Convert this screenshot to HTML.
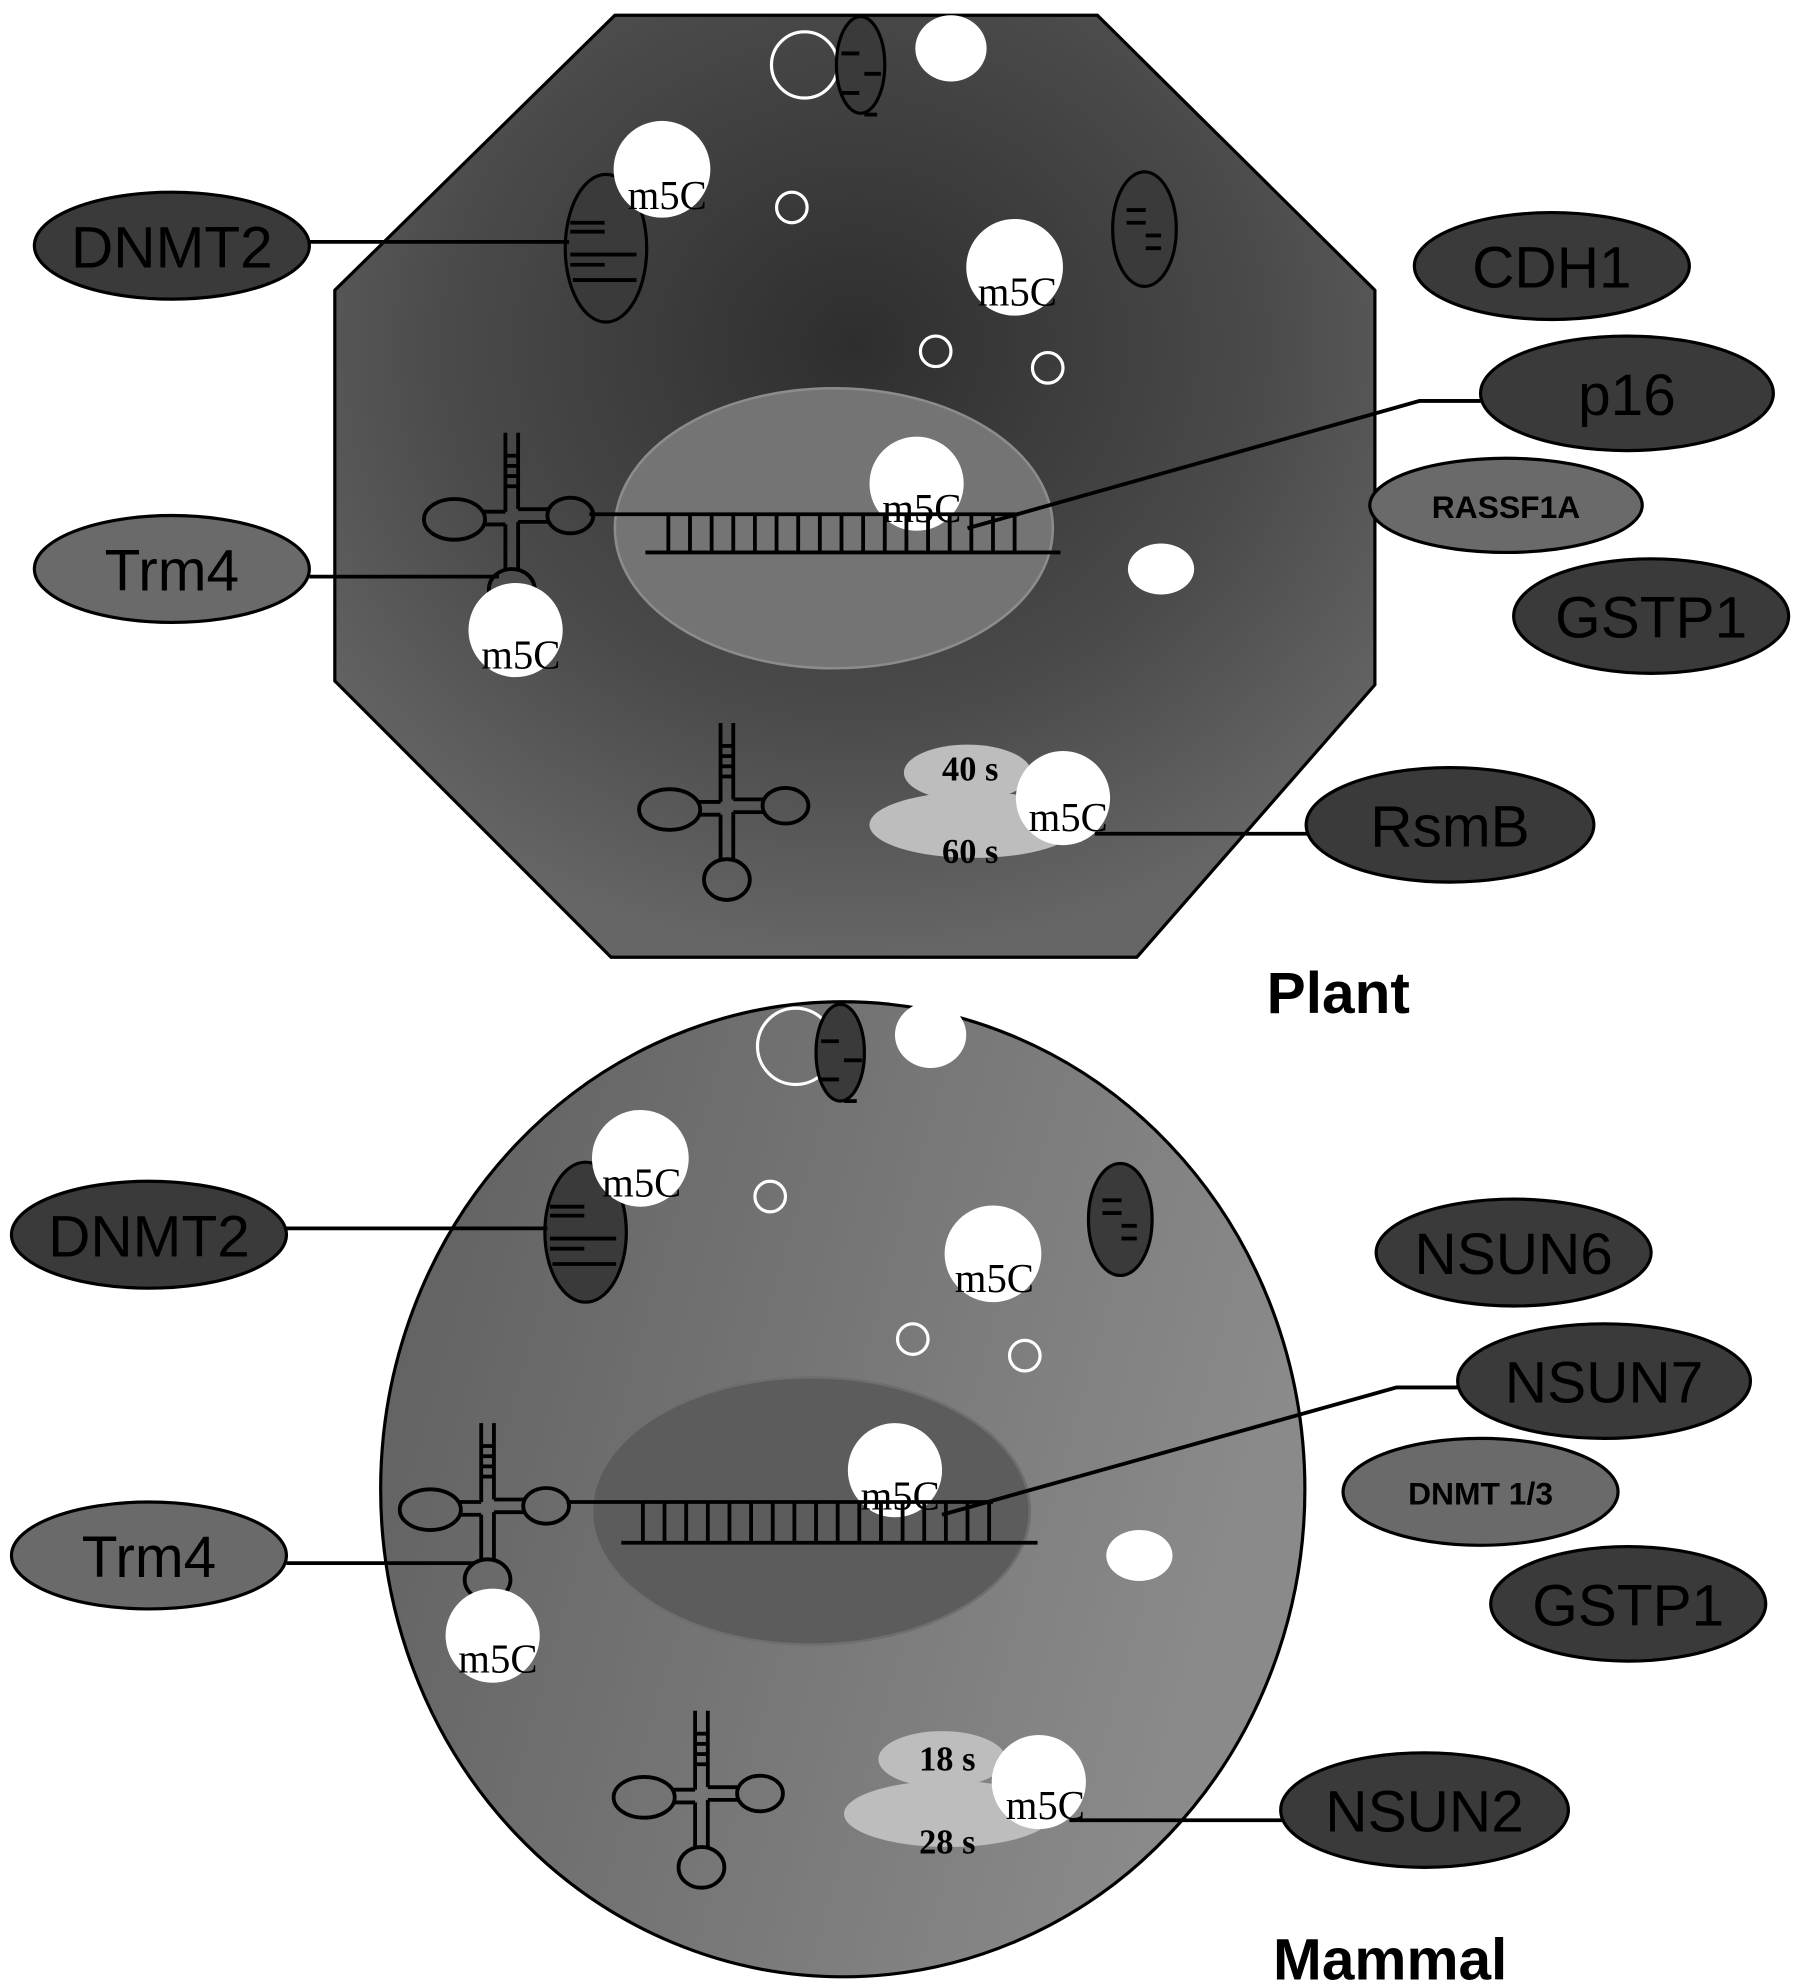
<!DOCTYPE html>
<html><head><meta charset="utf-8"><style>html,body{margin:0;padding:0;background:#fff}svg{display:block}</style></head>
<body>
<svg width="1795" height="1987" viewBox="0 0 1410 1561" preserveAspectRatio="none" xmlns="http://www.w3.org/2000/svg">
<defs>
<radialGradient id="pg" cx="0.5" cy="0.35" r="0.65">
<stop offset="0" stop-color="#2e2e2e"/><stop offset="0.6" stop-color="#4a4a4a"/><stop offset="1" stop-color="#666"/>
</radialGradient>
<linearGradient id="mg" x1="0" y1="0" x2="1" y2="0.3">
<stop offset="0" stop-color="#5e5e5e"/><stop offset="1" stop-color="#8a8a8a"/>
</linearGradient>
<g id="trna" fill="none" stroke="#000" stroke-width="3">
<line x1="-5" y1="-68" x2="-5" y2="-6"/><line x1="5" y1="-68" x2="5" y2="-8"/>
<line x1="-5" y1="-50" x2="5" y2="-50"/><line x1="-5" y1="-42" x2="5" y2="-42"/><line x1="-5" y1="-34" x2="5" y2="-34"/><line x1="-5" y1="-26" x2="5" y2="-26"/>
<line x1="-5" y1="-6" x2="-22" y2="-6"/><line x1="-5" y1="4" x2="-22" y2="4"/>
<ellipse cx="-45" cy="0" rx="24" ry="16"/>
<line x1="5" y1="-8" x2="30" y2="-8"/><line x1="5" y1="2" x2="30" y2="2"/>
<ellipse cx="46" cy="-3" rx="18" ry="14"/>
<line x1="-5" y1="4" x2="-5" y2="40"/><line x1="5" y1="2" x2="5" y2="40"/>
<ellipse cx="0" cy="55" rx="18" ry="16"/>
</g>
</defs>
<style>
.m{font-family:"Liberation Serif",serif;font-size:32px;fill:#000}
.lab{font-family:"Liberation Sans",sans-serif;font-size:46px;fill:#000;text-anchor:middle}
.sm{font-family:"Liberation Sans",sans-serif;font-size:25px;font-weight:bold;fill:#000;text-anchor:middle}
.rs{font-family:"Liberation Serif",serif;font-size:27px;font-weight:bold;fill:#000}
.big{font-family:"Liberation Sans",sans-serif;font-size:46px;font-weight:bold;fill:#000}
.dk{fill:#3a3a3a;stroke:#000;stroke-width:2.5}
.md{fill:#6a6a6a;stroke:#000;stroke-width:2.5}
.wh{fill:#fff}
.ho{fill:none;stroke:#fff;stroke-width:2.5}
.ln{stroke:#000;stroke-width:3;fill:none}
</style>

<!-- PLANT -->
<polygon points="483,12 862,12 1080,228 1080,538 893,752 480,752 263,535 263,228" fill="url(#pg)" stroke="#000" stroke-width="2.5"/>
<ellipse cx="655" cy="415" rx="172" ry="110" fill="#747474" stroke="#8c8c8c" stroke-width="2"/>
<circle cx="632" cy="51" r="26" class="ho"/>
<ellipse cx="676" cy="51" rx="19" ry="38" class="dk"/>
<g class="ln"><line x1="661" y1="42" x2="675" y2="42"/><line x1="661" y1="73" x2="675" y2="73"/><line x1="679" y1="58" x2="692" y2="58"/><line x1="679" y1="90" x2="689" y2="90"/></g>
<ellipse cx="747" cy="38" rx="28" ry="26" class="wh"/>
<circle cx="622" cy="163" r="12" class="ho"/>
<circle cx="735" cy="276" r="12" class="ho"/>
<circle cx="823" cy="289" r="12" class="ho"/>
<ellipse cx="899" cy="180" rx="25" ry="45" class="dk"/>
<g class="ln"><line x1="885" y1="165" x2="900" y2="165"/><line x1="885" y1="175" x2="900" y2="175"/><line x1="900" y1="185" x2="912" y2="185"/><line x1="900" y1="195" x2="912" y2="195"/></g>
<ellipse cx="476" cy="195" rx="32" ry="58" class="dk"/>
<g class="ln"><line x1="448" y1="175" x2="475" y2="175"/><line x1="448" y1="182" x2="475" y2="182"/><line x1="448" y1="200" x2="500" y2="200"/><line x1="448" y1="208" x2="475" y2="208"/><line x1="450" y1="220" x2="500" y2="220"/></g>
<circle cx="520" cy="133" r="38" class="wh"/>
<text x="493" y="164" class="m">m5C</text>
<circle cx="797" cy="210" r="38" class="wh"/>
<text x="768" y="240" class="m">m5C</text>
<line x1="243" y1="190" x2="447" y2="190" class="ln"/>
<ellipse cx="135" cy="193" rx="108" ry="42" class="dk"/>
<text x="135" y="210" class="lab">DNMT2</text>
<ellipse cx="1219" cy="209" rx="108" ry="42" class="dk"/>
<text x="1219" y="226" class="lab">CDH1</text>
<polyline points="1165,315 1115,315 760,415" class="ln"/>
<ellipse cx="1278" cy="309" rx="115" ry="45" class="dk"/>
<text x="1278" y="326" class="lab">p16</text>
<ellipse cx="1183" cy="397" rx="107" ry="37" class="md"/>
<text x="1183" y="407" class="sm">RASSF1A</text>
<ellipse cx="1297" cy="484" rx="108" ry="45" class="dk"/>
<text x="1297" y="501" class="lab">GSTP1</text>
<ellipse cx="912" cy="447" rx="26" ry="20" class="wh"/>
<circle cx="720" cy="380" r="37" class="wh"/>
<g class="ln">
<line x1="463" y1="404" x2="800" y2="404"/><line x1="507" y1="434" x2="833" y2="434"/>
<path d="M525 404v30M542 404v30M559 404v30M576 404v30M593 404v30M610 404v30M627 404v30M644 404v30M661 404v30M678 404v30M695 404v30M712 404v30M729 404v30M746 404v30M763 404v30M780 404v30M797 404v30"/>
</g>
<text x="693" y="410" class="m">m5C</text>
<use href="#trna" x="402" y="408"/>
<line x1="243" y1="453" x2="392" y2="453" class="ln"/>
<ellipse cx="135" cy="447" rx="108" ry="42" class="md"/>
<text x="135" y="464" class="lab">Trm4</text>
<circle cx="405" cy="495" r="37" class="wh"/>
<text x="378" y="525" class="m">m5C</text>
<use href="#trna" x="571" y="636"/>
<ellipse cx="760" cy="607" rx="50" ry="22" fill="#bdbdbd"/>
<ellipse cx="765" cy="648" rx="82" ry="26" fill="#bdbdbd"/>
<circle cx="835" cy="627" r="37" class="wh"/>
<text x="740" y="613" class="rs">40 s</text>
<text x="740" y="678" class="rs">60 s</text>
<text x="808" y="653" class="m">m5C</text>
<line x1="860" y1="655" x2="1027" y2="655" class="ln"/>
<ellipse cx="1139" cy="648" rx="113" ry="45" class="dk"/>
<text x="1139" y="665" class="lab">RsmB</text>
<text x="995" y="796" class="big">Plant</text>

<!-- MAMMAL -->
<ellipse cx="662" cy="1170" rx="363" ry="383" fill="url(#mg)" stroke="#000" stroke-width="2.5"/>
<ellipse cx="637" cy="1187" rx="172" ry="105" fill="#5c5c5c" stroke="#6e6e6e" stroke-width="2"/>
<circle cx="625" cy="822" r="30" class="ho"/>
<ellipse cx="660" cy="827" rx="19" ry="38" class="dk"/>
<g class="ln"><line x1="645" y1="818" x2="659" y2="818"/><line x1="645" y1="848" x2="659" y2="848"/><line x1="663" y1="833" x2="677" y2="833"/><line x1="663" y1="865" x2="673" y2="865"/></g>
<ellipse cx="731" cy="813" rx="28" ry="26" class="wh"/>
<circle cx="605" cy="940" r="12" class="ho"/>
<circle cx="717" cy="1052" r="12" class="ho"/>
<circle cx="805" cy="1065" r="12" class="ho"/>
<ellipse cx="880" cy="958" rx="25" ry="44" class="dk"/>
<g class="ln"><line x1="866" y1="943" x2="881" y2="943"/><line x1="866" y1="953" x2="881" y2="953"/><line x1="881" y1="963" x2="893" y2="963"/><line x1="881" y1="973" x2="893" y2="973"/></g>
<ellipse cx="460" cy="968" rx="32" ry="55" class="dk"/>
<g class="ln"><line x1="432" y1="948" x2="459" y2="948"/><line x1="432" y1="955" x2="459" y2="955"/><line x1="432" y1="973" x2="484" y2="973"/><line x1="432" y1="981" x2="459" y2="981"/><line x1="434" y1="993" x2="484" y2="993"/></g>
<circle cx="503" cy="910" r="38" class="wh"/>
<text x="473" y="940" class="m">m5C</text>
<circle cx="780" cy="985" r="38" class="wh"/>
<text x="750" y="1015" class="m">m5C</text>
<line x1="225" y1="965" x2="430" y2="965" class="ln"/>
<ellipse cx="117" cy="970" rx="108" ry="42" class="dk"/>
<text x="117" y="987" class="lab">DNMT2</text>
<ellipse cx="1189" cy="984" rx="108" ry="42" class="dk"/>
<text x="1189" y="1001" class="lab">NSUN6</text>
<polyline points="1147,1090 1097,1090 740,1190" class="ln"/>
<ellipse cx="1260" cy="1085" rx="115" ry="45" class="dk"/>
<text x="1260" y="1102" class="lab">NSUN7</text>
<ellipse cx="1163" cy="1172" rx="108" ry="42" class="md"/>
<text x="1163" y="1182" class="sm">DNMT 1/3</text>
<ellipse cx="1279" cy="1260" rx="108" ry="45" class="dk"/>
<text x="1279" y="1277" class="lab">GSTP1</text>
<ellipse cx="895" cy="1222" rx="26" ry="20" class="wh"/>
<circle cx="703" cy="1155" r="37" class="wh"/>
<g class="ln">
<line x1="445" y1="1180" x2="780" y2="1180"/><line x1="488" y1="1212" x2="815" y2="1212"/>
<path d="M505 1180v32M522 1180v32M539 1180v32M556 1180v32M573 1180v32M590 1180v32M607 1180v32M624 1180v32M641 1180v32M658 1180v32M675 1180v32M692 1180v32M709 1180v32M726 1180v32M743 1180v32M760 1180v32M777 1180v32"/>
</g>
<text x="676" y="1186" class="m">m5C</text>
<use href="#trna" x="383" y="1186"/>
<line x1="225" y1="1228" x2="372" y2="1228" class="ln"/>
<ellipse cx="117" cy="1222" rx="108" ry="42" class="md"/>
<text x="117" y="1239" class="lab">Trm4</text>
<circle cx="387" cy="1285" r="37" class="wh"/>
<text x="360" y="1314" class="m">m5C</text>
<use href="#trna" x="551" y="1412"/>
<ellipse cx="740" cy="1382" rx="50" ry="22" fill="#bdbdbd"/>
<ellipse cx="745" cy="1425" rx="82" ry="26" fill="#bdbdbd"/>
<circle cx="816" cy="1400" r="37" class="wh"/>
<text x="722" y="1391" class="rs">18 s</text>
<text x="722" y="1456" class="rs">28 s</text>
<text x="790" y="1429" class="m">m5C</text>
<line x1="840" y1="1430" x2="1007" y2="1430" class="ln"/>
<ellipse cx="1119" cy="1422" rx="113" ry="45" class="dk"/>
<text x="1119" y="1439" class="lab">NSUN2</text>
<text x="1000" y="1555" class="big">Mammal</text>
</svg>
</body></html>
